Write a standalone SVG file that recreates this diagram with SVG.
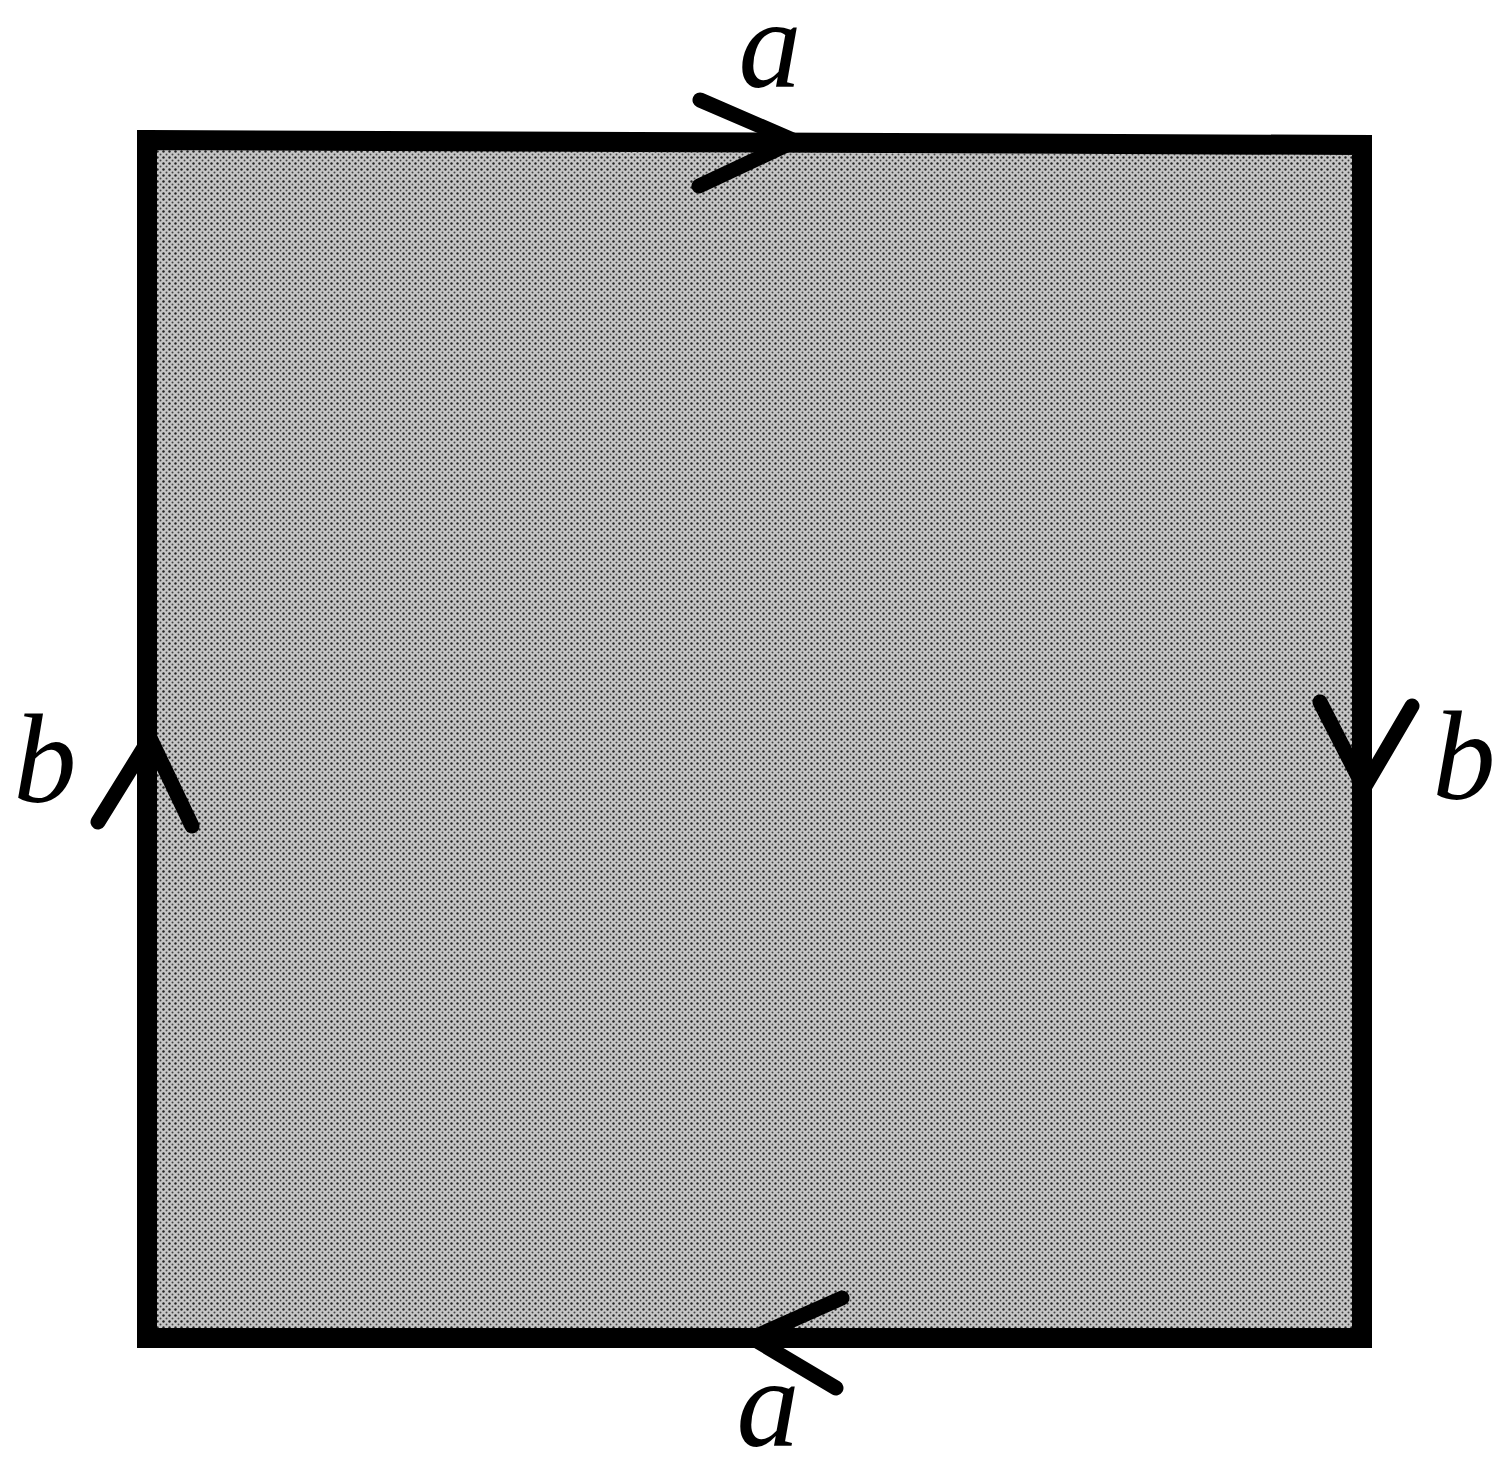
<svg xmlns="http://www.w3.org/2000/svg" width="1501" height="1459" viewBox="0 0 1501 1459">
<style>
.lbl{font-family:"Liberation Serif",serif;font-style:italic;font-size:126px;fill:#000;text-anchor:middle}
.arr{fill:none;stroke:#000;stroke-width:15;stroke-linecap:round;stroke-linejoin:miter}
</style>
<defs>
<pattern id="stip" width="6" height="6" patternUnits="userSpaceOnUse">
<rect width="6" height="6" fill="#c6c6c6"/>
<circle cx="1.5" cy="1.5" r="1.2" fill="#222"/>
<circle cx="4.5" cy="4.5" r="1" fill="#444"/>
</pattern>
</defs>
<rect width="1501" height="1459" fill="#fff"/>
<g id="square">
<path d="M147,140 L1362,145 L1362,1338 L147,1338 Z" fill="url(#stip)" stroke="#000" stroke-width="20" stroke-linejoin="miter"/>
</g>
<g id="connectors">
<path class="arr" d="M700,100 L795,141 L699,186"/>
<path class="arr" d="M842,1298 L752,1338 L836,1388"/>
<path class="arr" d="M98,822 L150,738 L192,826"/>
<path class="arr" d="M1320,702 L1364,788 L1412,706"/>
</g>
<g id="labels">
<text class="lbl" x="770" y="87">a</text>
<text class="lbl" x="768" y="1446">a</text>
<text class="lbl" x="45" y="802">b</text>
<text class="lbl" x="1464" y="799">b</text>
</g>
</svg>
